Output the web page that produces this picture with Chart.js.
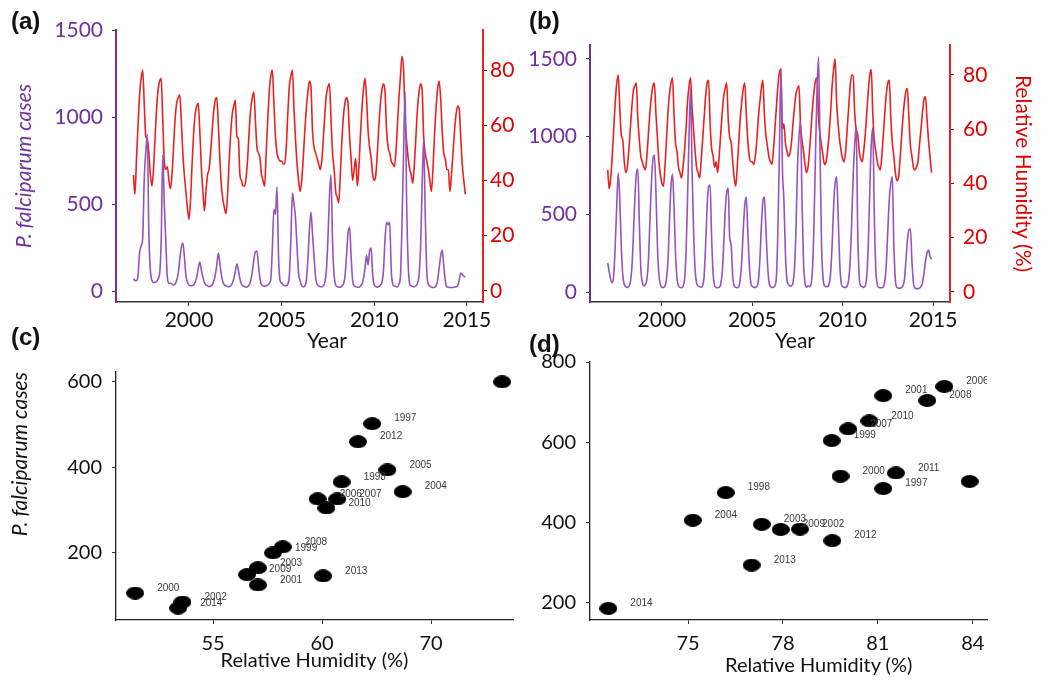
<!DOCTYPE html>
<html>
<head>
<meta charset="utf-8">
<script src="https://cdn.jsdelivr.net/npm/chart.js@4.4.1/dist/chart.umd.min.js"></script>
<style>
  body { margin: 0; background: #fff; }
  #page { position: relative; width: 1050px; height: 693px; overflow: hidden; font-family: Lato, "Open Sans", sans-serif; }
  canvas { position: absolute; }
  .tag { position: absolute; font: bold 24px "Liberation Sans", Arial, sans-serif; line-height: 1; color: #111; }
  .xt { position: absolute; font-size: 21px; line-height: 1; color: #111; white-space: nowrap; }
</style>
</head>
<body>
<div id="page">
  <canvas id="chartA" width="515" height="352" style="left:0;top:0"></canvas>
  <canvas id="chartB" width="530" height="352" style="left:520px;top:0"></canvas>
  <canvas id="chartC" width="520" height="340" style="left:0;top:340px"></canvas>
  <canvas id="chartD" width="530" height="340" style="left:520px;top:340px"></canvas>
  <div class="tag" style="left:11px;top:9px">(a)</div>
  <div class="tag" style="left:529px;top:9px">(b)</div>
  <div class="tag" style="left:11px;top:325px">(c)</div>
  <div class="tag" style="left:529px;top:332px">(d)</div>
  <div class="xt" style="left:307px;top:329px">Year</div>
  <div class="xt" style="left:775px;top:329px">Year</div>
  <div class="xt" style="left:725px;top:654px;font-size:20px">Relative Humidity (%)</div>
</div>
<script>
// monthly series, Jan 1997 - Dec 2014 (one row per year)
const casesA = [
  70, 60, 60, 90, 220, 260, 300, 640, 800, 900, 330, 120,
  60, 50, 50, 55, 70, 100, 290, 782, 500, 280, 80, 45,
  45, 40, 35, 40, 60, 100, 180, 250, 276, 200, 90, 50,
  35, 30, 30, 35, 50, 80, 130, 167, 120, 80, 50, 35,
  30, 25, 28, 35, 55, 90, 150, 218, 160, 90, 50, 35,
  30, 25, 25, 30, 45, 70, 110, 155, 120, 70, 40, 30,
  25, 22, 25, 35, 60, 110, 180, 225, 230, 150, 70, 35,
  30, 28, 30, 35, 45, 70, 250, 470, 440, 598, 200, 60,
  45, 35, 30, 30, 40, 90, 300, 563, 500, 420, 250, 100,
  60, 30, 25, 30, 60, 180, 350, 454, 330, 200, 80, 40,
  30, 25, 25, 30, 50, 120, 300, 550, 667, 280, 90, 35,
  25, 22, 22, 28, 40, 80, 200, 330, 368, 200, 60, 30,
  25, 22, 22, 28, 40, 70, 130, 207, 150, 230, 247, 90,
  35, 25, 22, 25, 35, 50, 120, 300, 395, 380, 397, 120,
  40, 30, 25, 25, 40, 90, 400, 800, 1144, 500, 150, 40,
  30, 25, 25, 30, 45, 90, 250, 600, 868, 450, 120, 40,
  30, 22, 20, 22, 30, 60, 130, 200, 236, 150, 60, 25,
  22, 20, 20, 20, 22, 25, 30, 60, 103, 95, 85, 80
];
const humidityA = [
  42, 35, 48, 60, 71, 77, 80, 68, 56, 55, 50, 42,
  38, 44, 55, 66, 73, 76, 77, 62, 47, 44, 45, 40,
  37, 42, 52, 62, 68, 70, 71, 62, 50, 42, 36, 30,
  26, 33, 46, 57, 64, 67, 68, 58, 45, 36, 29, 36,
  42, 44, 50, 58, 65, 69, 70, 60, 48, 38, 33, 30,
  28, 35, 47, 57, 64, 67, 69, 56, 55, 42, 40, 38,
  38, 41, 48, 58, 66, 70, 72, 62, 52, 50, 48, 42,
  40, 38, 50, 62, 72, 78, 80, 68, 56, 50, 48, 47,
  47, 46, 46, 52, 64, 74, 78, 80, 66, 55, 46, 40,
  36, 40, 48, 58, 66, 72, 76, 74, 58, 52, 50, 48,
  46, 44, 47, 55, 64, 71, 74, 75, 62, 50, 44, 36,
  34, 32, 42, 54, 63, 68, 70, 68, 56, 48, 40, 44,
  48, 38, 44, 56, 66, 73, 77, 70, 58, 52, 48, 42,
  40, 42, 50, 60, 68, 73, 75, 72, 58, 52, 50, 47,
  46, 45, 50, 60, 70, 78, 85, 80, 62, 54, 48, 44,
  42, 39, 46, 56, 66, 72, 75, 73, 56, 50, 47, 44,
  40, 36, 44, 56, 66, 73, 76, 70, 58, 50, 48, 44,
  44, 36, 42, 50, 58, 64, 67, 66, 56, 46, 40, 35
];
const casesB = [
  187, 130, 80, 60, 110, 300, 560, 766, 600, 300, 110, 50,
  35, 30, 35, 60, 150, 350, 600, 760, 792, 450, 150, 60,
  40, 50, 80, 200, 450, 700, 850, 882, 650, 300, 110, 50,
  30, 30, 40, 80, 200, 450, 680, 760, 560, 250, 90, 40,
  30, 28, 35, 80, 250, 600, 1000, 1313, 800, 400, 150, 60,
  40, 35, 30, 40, 100, 300, 550, 680, 689, 350, 120, 40,
  30, 28, 30, 50, 120, 300, 520, 640, 670, 350, 300, 100,
  40, 30, 28, 35, 80, 200, 400, 560, 612, 400, 180, 60,
  35, 30, 30, 35, 70, 200, 420, 580, 612, 420, 200, 70,
  35, 30, 30, 40, 100, 400, 900, 1442, 800, 590, 250, 80,
  50, 40, 40, 60, 150, 400, 800, 1000, 1101, 600, 200, 60,
  30, 40, 35, 50, 150, 450, 900, 1300, 1514, 900, 300, 90,
  40, 35, 35, 50, 120, 300, 550, 700, 741, 500, 200, 60,
  35, 30, 30, 40, 80, 200, 450, 750, 950, 1063, 400, 100,
  40, 35, 30, 40, 100, 300, 650, 950, 1056, 500, 150, 50,
  30, 28, 28, 35, 70, 180, 400, 600, 700, 741, 300, 80,
  30, 25, 25, 28, 40, 80, 200, 330, 400, 406, 200, 60,
  25, 22, 22, 25, 35, 60, 120, 200, 250, 270, 230, 212
];
const humidityB = [
  45, 38, 42, 50, 60, 70, 77, 80, 68, 58, 56, 48,
  44, 46, 52, 60, 68, 74, 76, 77, 64, 56, 50, 48,
  46, 45, 50, 58, 66, 72, 76, 77, 66, 57, 48, 43,
  40, 39, 46, 56, 66, 73, 77, 79, 66, 55, 52, 46,
  44, 42, 46, 52, 60, 70, 76, 79, 68, 60, 52, 46,
  44, 42, 48, 56, 64, 72, 77, 78, 62, 53, 50, 46,
  48, 44, 50, 58, 66, 72, 75, 77, 64, 57, 55, 48,
  42, 39, 46, 55, 64, 70, 75, 77, 66, 56, 50, 48,
  48, 47, 50, 56, 64, 70, 75, 78, 66, 58, 54, 50,
  48, 47, 52, 60, 68, 76, 81, 82, 60, 62, 55, 52,
  50, 51, 55, 62, 68, 73, 75, 76, 62, 56, 52, 47,
  44, 46, 52, 60, 68, 74, 78, 79, 64, 58, 54, 50,
  47, 48, 52, 58, 66, 76, 82, 86, 70, 62, 56, 52,
  49, 48, 52, 60, 68, 76, 80, 80, 66, 60, 58, 52,
  49, 48, 52, 58, 66, 74, 80, 82, 66, 56, 52, 48,
  46, 45, 50, 58, 66, 73, 77, 78, 64, 55, 50, 44,
  41, 42, 48, 56, 64, 70, 74, 75, 64, 54, 50, 46,
  45, 46, 48, 54, 60, 66, 71, 72, 64, 56, 50, 44
];
const yearTicks = [2000, 2005, 2010, 2015];
const casesTicks = [0, 500, 1000, 1500];
const humidityTicks = [0, 20, 40, 60, 80];

// annual scatter data
const years = ['1997', '1998', '1999', '2000', '2001', '2002', '2003', '2004', '2005',
               '2006', '2007', '2008', '2009', '2010', '2011', '2012', '2013', '2014'];
const humC = [62.3, 60.9, 57.75, 51.43, 57.06, 53.6, 57.06, 63.7, 63.0,
              59.8, 60.7, 58.2, 56.56, 60.2, 68.26, 61.65, 60.05, 53.4];
const casesC = [502, 366, 200, 106, 125, 85, 165, 343, 394,
                326, 326, 214, 149, 305, 600, 460, 146, 71];
const humD = [81.17, 76.19, 79.54, 79.82, 81.17, 78.54, 77.33, 75.15, 83.9,
              83.1, 80.06, 82.56, 77.93, 80.73, 81.57, 79.56, 77.01, 72.48];
const casesD = [484, 474, 604, 515, 716, 383, 395, 405, 502,
                739, 633, 704, 382, 653, 523, 354, 293, 185];
const xTicksC = [55, 60, 65];
const xTickLabelsC = ['55', '60', '70'];
const yTicksC = [200, 400, 600];
const xTicksD = [75, 78, 81, 84];
const yTicksD = [200, 400, 600, 800];

const PURPLE = '#7030a0';
const PURPLE_LINE = '#9553bb';
const RED = '#e00000';
const RED_LINE = '#ea2020';
const INK = '#111';

Chart.defaults.font.family = 'Lato, "Open Sans", sans-serif';
Chart.defaults.animation = false;
Chart.defaults.plugins.legend.display = false;
Chart.defaults.plugins.tooltip.enabled = false;

const monthX = i => 1997 + i / 12;
const series = arr => arr.map((v, i) => ({ x: monthX(i), y: v }));
const fixTicks = list => scale => { scale.ticks = list.map(v => ({ value: v })); };
const plain = v => String(v);

function timeChart(id, cases, humidity, o) {
  return new Chart(document.getElementById(id), {
    type: 'line',
    data: {
      datasets: [
        { data: series(cases), yAxisID: 'yCases', borderColor: PURPLE_LINE, borderWidth: 1.6,
          pointRadius: 0, tension: 0.25, cubicInterpolationMode: 'monotone' },
        { data: series(humidity), yAxisID: 'yHum', borderColor: RED_LINE, borderWidth: 1.6,
          pointRadius: 0, tension: 0.25, cubicInterpolationMode: 'monotone' }
      ]
    },
    options: {
      responsive: false,
      layout: { padding: { top: o.top, left: 0, right: 0, bottom: 0 } },
      scales: {
        x: {
          type: 'linear', min: o.xMin, max: o.xMax,
          afterBuildTicks: fixTicks(yearTicks),
          afterFit: s => { s.height = 50; },
          ticks: { color: INK, font: { size: 21 }, padding: 2, autoSkip: false, maxRotation: 0, callback: plain },
          grid: { drawOnChartArea: false, tickLength: 4, color: '#333' },
          border: { color: '#333', width: 1.5 }
        },
        yCases: {
          position: 'left', min: o.cMin, max: o.cMax,
          afterBuildTicks: fixTicks(casesTicks),
          afterFit: s => { s.width = o.leftW; },
          ticks: { color: PURPLE, font: { size: 21 }, padding: 9, callback: plain },
          grid: { drawOnChartArea: false, tickLength: 4, color: '#333' },
          border: { color: PURPLE, width: 2 },
          title: { display: o.leftTitle, text: 'P. falciparum cases', color: PURPLE,
                   font: { size: 21, style: 'italic' }, padding: { top: 12 } }
        },
        yHum: {
          position: 'right', min: o.hMin, max: o.hMax,
          afterBuildTicks: fixTicks(humidityTicks),
          afterFit: s => { s.width = o.rightW; },
          ticks: { color: RED, font: { size: 21 }, padding: o.rightPad, callback: plain },
          grid: { drawOnChartArea: false, tickLength: 4, color: '#333' },
          border: { color: RED_LINE, width: 2 },
          title: { display: o.rightTitle, text: 'Relative Humidity (%)', color: RED,
                   font: { size: 21 }, padding: { top: 15 } }
        }
      }
    }
  });
}

timeChart('chartA', casesA, humidityA, {
  top: 30, xMin: 1996.06, xMax: 2015.87, cMin: -63, cMax: 1500, hMin: -4, hMax: 94.5,
  leftW: 116, rightW: 32, rightPad: 3, leftTitle: true, rightTitle: false
});
timeChart('chartB', casesB, humidityB, {
  top: 45, xMin: 1996.02, xMax: 2015.94, cMin: -64, cMax: 1590, hMin: -3.7, hMax: 91.06,
  leftW: 70, rightW: 100, rightPad: 9, leftTitle: false, rightTitle: true
});

// black elliptical dots like the original
function ellipseDot(w, h) {
  const c = document.createElement('canvas');
  c.width = w; c.height = h;
  const g = c.getContext('2d');
  g.fillStyle = '#000';
  g.beginPath();
  g.ellipse(w / 2, h / 2, w / 2, h / 2, 0, 0, Math.PI * 2);
  g.fill();
  return c;
}
const dot = ellipseDot(18, 13);

// small year labels next to each dot, clipped to the plot area
const yearLabels = {
  id: 'yearLabels',
  afterDatasetsDraw(chart, args, opts) {
    const { ctx, chartArea } = chart;
    const meta = chart.getDatasetMeta(0);
    ctx.save();
    ctx.beginPath();
    ctx.rect(chartArea.left, 0, chartArea.right - chartArea.left, chart.height);
    ctx.clip();
    ctx.font = '10px "Liberation Sans", Arial, sans-serif';
    ctx.fillStyle = '#3a3a3a';
    ctx.textBaseline = 'middle';
    meta.data.forEach((pt, i) => ctx.fillText(opts.labels[i], pt.x + 22, pt.y - 5));
    ctx.restore();
  }
};

function scatterChart(id, hum, cases, o) {
  return new Chart(document.getElementById(id), {
    type: 'scatter',
    data: {
      datasets: [{ data: hum.map((h, i) => ({ x: h, y: cases[i] })), pointStyle: dot,
                   backgroundColor: '#000', borderWidth: 0 }]
    },
    plugins: [yearLabels],
    options: {
      responsive: false,
      layout: { padding: { top: o.top, right: o.right, left: 0, bottom: 0 } },
      plugins: { yearLabels: { labels: years } },
      scales: {
        x: {
          type: 'linear', min: o.xMin, max: o.xMax,
          afterBuildTicks: fixTicks(o.xTicks),
          afterFit: s => { s.height = 60; },
          ticks: { color: INK, font: { size: 20 }, padding: 8, autoSkip: false, maxRotation: 0,
                   callback: o.xLabel },
          grid: { drawOnChartArea: false, tickLength: 4, color: '#333' },
          border: { color: '#222', width: 1.3 },
          title: { display: o.xTitle, text: 'Relative Humidity (%)', color: INK,
                   font: { size: 20 }, padding: { bottom: 7 } }
        },
        y: {
          min: o.yMin, max: o.yMax,
          afterBuildTicks: fixTicks(o.yTicks),
          afterFit: s => { s.width = o.leftW; },
          ticks: { color: INK, font: { size: 20 }, padding: 10, callback: plain },
          grid: { drawOnChartArea: false, tickLength: 4, color: '#333' },
          border: { color: '#222', width: 1.3 },
          title: { display: o.yTitle, text: 'P. falciparum cases', color: INK, align: 'end',
                   font: { size: 21, style: 'italic' }, padding: { top: 8 } }
        }
      }
    }
  });
}

scatterChart('chartC', humC, casesC, {
  top: 32, right: 7, xMin: 50.55, xMax: 68.76, yMin: 43, yMax: 623,
  xTicks: xTicksC, yTicks: yTicksC, leftW: 116, xTitle: true, yTitle: true,
  xLabel: (v, i) => xTickLabelsC[i]
});
scatterChart('chartD', humD, casesD, {
  top: 16, right: 63, xMin: 71.9, xMax: 84.45, yMin: 156, yMax: 800,
  xTicks: xTicksD, yTicks: yTicksD, leftW: 70, xTitle: false, yTitle: false,
  xLabel: plain
});
</script>
</body>
</html>
